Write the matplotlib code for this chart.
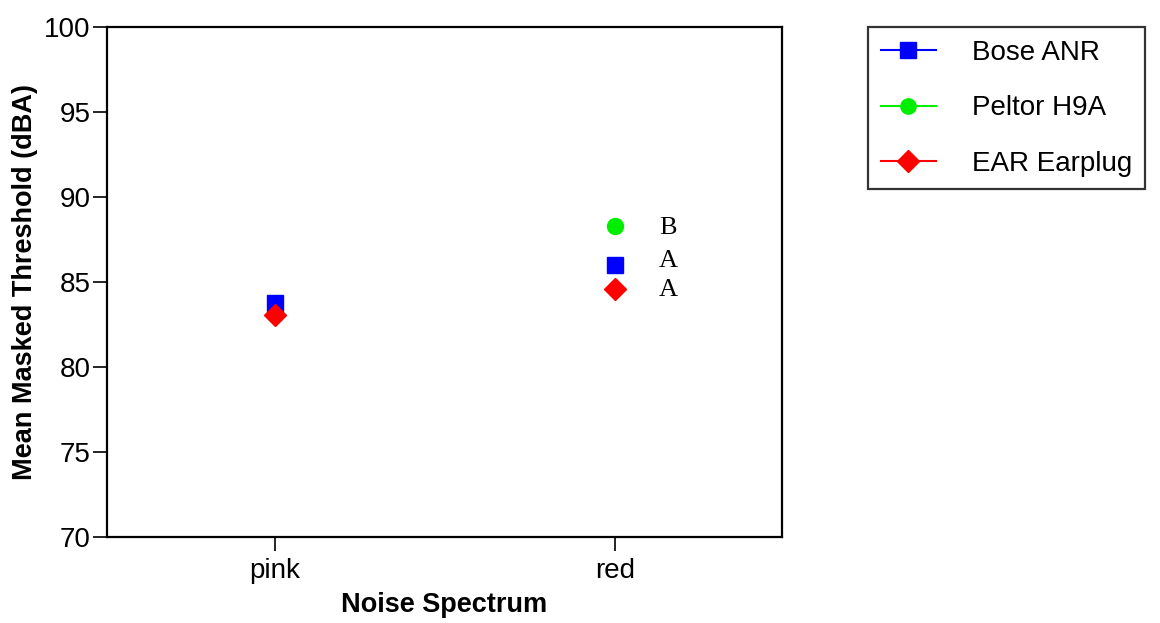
import matplotlib
matplotlib.use("Agg")
import matplotlib.pyplot as plt
from matplotlib.lines import Line2D

categories = ["pink", "red"]
series_names = ["Bose ANR", "Peltor H9A", "EAR Earplug"]
bose = [83.75, 86.0]
peltor = [83.2, 88.3]
ear = [83.05, 84.6]
red_letters = ["B", "A", "A"]
red_letter_y = [88.2, 86.25, 84.5]
yticks = [70, 75, 80, 85, 90, 95, 100]

plt.rcParams['font.family'] = ['Liberation Sans', 'DejaVu Sans']

fig = plt.figure(figsize=(11.6, 6.23), dpi=100)
ax = fig.add_axes([107/1160, 1-537/623, (782-107)/1160, (537-27)/623])

x = list(range(len(categories)))
ax.plot(x, peltor, linestyle='none', marker='o', color='#00ee00', markersize=11.5, zorder=3)
ax.plot(x, bose, linestyle='none', marker='s', color='#0000ff', markersize=11.5, zorder=4)
ax.plot(x, ear, linestyle='none', marker='D', color='#ff0000', markersize=11, zorder=5)

for val, letter in zip(red_letter_y, red_letters):
    ax.text(1 + 53/340, val, letter, family=['Liberation Serif'], fontsize=19,
            ha='center', va='center')

ax.set_xlim(-0.494, 1.491)
ax.set_ylim(70, 100)
ax.set_xticks(x)
ax.set_xticklabels(categories)
ax.set_yticks(yticks)
ax.tick_params(axis='both', labelsize=20, width=1.2, length=10, direction='out', pad=2)
ax.tick_params(axis='x', pad=5)
for s in ax.spines.values():
    s.set_linewidth(1.6)

ax.set_xlabel("Noise Spectrum", fontsize=19.5, fontweight='bold', labelpad=6)
ax.set_ylabel("Mean Masked Threshold (dBA)", fontsize=19.5, fontweight='bold', labelpad=4)

handles = [
    Line2D([], [], color='#0000ff', marker='s', markersize=11, linewidth=1.5),
    Line2D([], [], color='#00ee00', marker='o', markersize=11, linewidth=1.5),
    Line2D([], [], color='#ff0000', marker='D', markersize=11, linewidth=1.5),
]
leg = fig.legend(handles, series_names, loc='upper left',
                 bbox_to_anchor=(868/1160, 1-27/623), fontsize=20,
                 frameon=True, fancybox=False, handlelength=2.0,
                 labelspacing=1.07, borderpad=0.45, handletextpad=1.3,
                 borderaxespad=0)
leg.get_frame().set_edgecolor('black')
leg.get_frame().set_linewidth(1.6)

fig.savefig("out.png", dpi=100)
